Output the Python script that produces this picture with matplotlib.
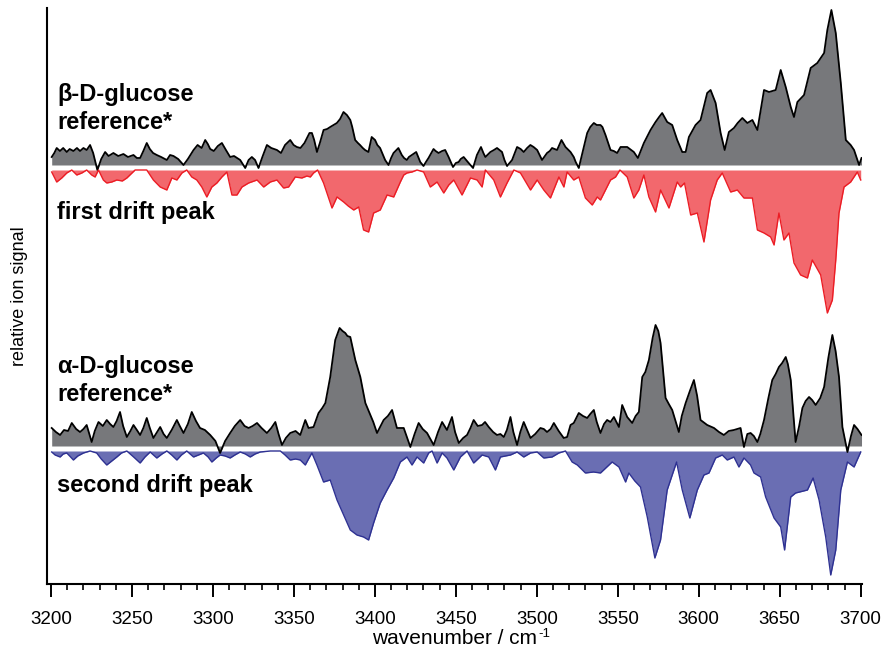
import numpy as np
import matplotlib
matplotlib.use("Agg")
import matplotlib.pyplot as plt
from matplotlib.ticker import MultipleLocator

plt.rcParams['font.family'] = ['Liberation Sans', 'DejaVu Sans']

# beta-D-glucose reference (upper grey trace), signal above its baseline
beta_wn = [3200.4, 3202.0, 3203.5, 3205.5, 3207.5, 3209.7, 3211.5, 3213.8, 3216.0, 3217.9,
           3220.0, 3222.0, 3224.1, 3226.0, 3228.6, 3231.0, 3233.4, 3235.5, 3238.5, 3241.5,
           3244.7, 3247.5, 3250.9, 3253.0, 3255.0, 3257.0, 3259.1, 3261.0, 3263.0, 3265.3,
           3268.0, 3271.5, 3273.5, 3275.6, 3278.5, 3281.8, 3284.5, 3288.0, 3290.5, 3293.0,
           3295.2, 3296.8, 3298.3, 3300.5, 3303.0, 3305.5, 3308.0, 3310.6, 3313.0, 3316.8,
           3319.9, 3322.0, 3324.0, 3326.0, 3328.1, 3330.5, 3333.3, 3336.0, 3339.5, 3342.0,
           3344.5, 3347.7, 3349.8, 3351.8, 3354.0, 3356.5, 3359.6, 3361.1, 3362.5, 3364.2,
           3366.0, 3368.3, 3370.5, 3372.4, 3374.5, 3376.5, 3378.5, 3380.6, 3382.7, 3384.8,
           3386.0, 3387.8, 3389.5, 3390.8, 3392.5, 3393.9, 3396.0, 3398.0, 3400.1, 3401.5,
           3403.2, 3405.0, 3406.3, 3408.4, 3410.0, 3411.5, 3414.5, 3416.6, 3418.0, 3419.7,
           3421.0, 3422.8, 3425.5, 3428.0, 3430.0, 3431.5, 3433.1, 3436.2, 3437.5, 3439.3,
           3441.5, 3443.4, 3445.5, 3448.2, 3450.0, 3451.7, 3453.0, 3454.8, 3457.9, 3460.6,
           3463.0, 3465.5, 3467.0, 3468.2, 3471.3, 3473.5, 3475.4, 3477.0, 3478.5, 3480.0,
           3481.6, 3484.7, 3487.8, 3490.0, 3491.9, 3494.0, 3496.0, 3498.0, 3500.2, 3503.2,
           3506.3, 3508.0, 3509.4, 3512.5, 3515.2, 3517.7, 3520.8, 3522.8, 3524.0, 3525.9,
           3529.0, 3531.1, 3533.0, 3535.2, 3537.0, 3539.3, 3540.5, 3542.4, 3545.5, 3547.5,
           3549.6, 3551.7, 3555.8, 3559.9, 3562.4, 3566.1, 3570.2, 3573.3, 3575.5, 3577.4,
           3580.5, 3583.6, 3586.7, 3589.8, 3591.9, 3593.9, 3598.0, 3601.1, 3605.2, 3607.3,
           3610.4, 3613.5, 3616.0, 3618.6, 3621.7, 3624.0, 3626.9, 3630.0, 3633.1, 3636.2,
           3640.3, 3643.4, 3647.5, 3650.6, 3653.7, 3656.8, 3658.8, 3660.9, 3665.0, 3669.1,
           3673.2, 3677.4, 3679.4, 3681.9, 3684.6, 3687.7, 3690.8, 3693.8, 3695.9, 3699.0,
           3700.5]
beta_ref = [8, 12, 17, 14, 17, 13, 16, 14, 17, 14,
            17, 15, 20, 12, -5, 6, 13, 9, 12, 9,
            11, 8, 10, 7, 7, 14, 22, 16, 12, 10,
            8, 5, 10, 9, 6, 0, 6, 15, 20, 17,
            25, 21, 16, 14, 19, 22, 15, 8, 9, 5,
            -3, 5, 8, 5, -3, 8, 20, 17, 15, 12,
            20, 25, 20, 18, 17, 22, 32, 32, 25, 13,
            22, 35, 36, 38, 40, 42, 46, 53, 50, 45,
            38, 25, 22, 20, 17, 15, 13, 28, 25, 20,
            17, 10, 5, 0, 7, 12, 17, 10, 7, 5,
            8, 10, 13, 3, -1, 3, 7, 16, 14, 12,
            14, 15, 8, -2, 2, 3, 6, 8, 2, -3,
            10, 18, 12, 8, 13, 15, 17, 15, 13, 5,
            -1, 5, 18, 16, 13, 17, 20, 18, 15, 5,
            12, 14, 17, 15, 25, 18, 13, 8, 3, -3,
            18, 32, 38, 42, 40, 40, 38, 30, 15, 14,
            12, 18, 18, 13, 7, 22, 35, 43, 48, 52,
            43, 40, 25, 13, 13, 28, 40, 45, 72, 75,
            62, 32, 15, 33, 37, 42, 47, 42, 45, 35,
            75, 73, 75, 95, 78, 58, 48, 63, 70, 97,
            102, 112, 135, 155, 132, 82, 25, 20, 15, 0,
            7]

# first drift peak (red, drawn downwards), depth below its baseline
first_wn = [3200.4, 3203.5, 3206.6, 3209.7, 3212.8, 3215.9, 3219.0, 3222.0, 3225.1, 3227.2,
            3229.3, 3232.3, 3234.4, 3237.5, 3240.6, 3244.0, 3246.8, 3251.9, 3255.0, 3259.1,
            3263.2, 3267.4, 3271.5, 3274.6, 3277.7, 3280.8, 3283.8, 3286.9, 3290.0, 3293.1,
            3296.2, 3299.3, 3302.4, 3305.5, 3308.6, 3311.7, 3314.8, 3317.9, 3322.0, 3327.2,
            3331.3, 3335.4, 3339.5, 3343.6, 3346.7, 3350.8, 3354.9, 3358.0, 3360.1, 3362.1,
            3364.6, 3368.3, 3373.5, 3376.6, 3380.7, 3383.5, 3386.9, 3390.0, 3393.0, 3396.1,
            3399.2, 3403.3, 3407.5, 3411.6, 3415.7, 3417.8, 3419.8, 3422.9, 3426.0, 3430.1,
            3434.2, 3438.4, 3442.5, 3445.6, 3448.7, 3453.8, 3456.9, 3459.0, 3463.1, 3466.2,
            3468.2, 3473.4, 3477.5, 3481.6, 3485.8, 3489.9, 3496.1, 3500.2, 3504.3, 3508.4,
            3513.6, 3516.7, 3518.7, 3522.8, 3525.9, 3530.0, 3534.2, 3537.3, 3539.3, 3545.5,
            3548.6, 3551.3, 3555.8, 3559.9, 3563.0, 3566.1, 3569.2, 3573.3, 3576.4, 3581.6,
            3586.7, 3588.8, 3591.2, 3595.0, 3599.1, 3603.2, 3607.3, 3611.4, 3614.5, 3619.7,
            3623.8, 3627.9, 3633.1, 3636.2, 3640.3, 3644.4, 3646.5, 3649.5, 3652.6, 3655.7,
            3658.8, 3662.9, 3667.1, 3670.1, 3675.3, 3679.4, 3682.5, 3684.6, 3686.6, 3689.7,
            3693.8, 3697.9, 3700.0]
first_peak = [2, 12, 8, 3, 0, 5, 3, 0, 5, 7,
              0, 10, 13, 12, 10, 11, 8, 0, 0, 0,
              10, 17, 20, 8, 10, 3, 0, 7, 10, 17,
              27, 17, 13, 7, 2, 25, 25, 17, 13, 10,
              17, 12, 10, 18, 17, 7, 8, 6, 7, 3,
              0, 13, 38, 27, 32, 36, 40, 37, 60, 62,
              43, 40, 25, 27, 12, 5, 3, 2, 0, 2,
              17, 12, 23, 15, 10, 25, 15, 8, 10, 17,
              0, 10, 27, 13, 0, 3, 20, 10, 20, 28,
              7, 17, 2, 10, 7, 28, 35, 27, 30, 10,
              7, 0, 7, 28, 20, 5, 27, 42, 20, 38,
              12, 17, 13, 45, 43, 72, 30, 10, 3, 22,
              20, 28, 28, 60, 63, 67, 75, 43, 70, 63,
              93, 105, 108, 90, 105, 143, 130, 90, 43, 17,
              12, 2, 10]

# alpha-D-glucose reference (lower grey trace)
alpha_wn = [3200.4, 3203.0, 3205.6, 3208.0, 3210.5, 3212.8, 3215.5, 3217.9, 3220.0, 3222.0,
            3225.1, 3227.0, 3229.3, 3232.0, 3234.4, 3236.5, 3238.5, 3240.5, 3242.6, 3244.5,
            3246.8, 3249.0, 3250.9, 3253.0, 3255.0, 3257.0, 3259.1, 3261.0, 3263.2, 3265.5,
            3267.4, 3269.5, 3271.5, 3274.5, 3277.7, 3279.5, 3281.8, 3284.5, 3286.9, 3289.5,
            3292.0, 3295.0, 3298.3, 3301.5, 3304.4, 3307.5, 3310.6, 3313.5, 3316.8, 3319.5,
            3322.0, 3324.5, 3327.2, 3330.0, 3333.3, 3336.0, 3338.5, 3340.5, 3342.6, 3345.0,
            3347.7, 3351.0, 3353.9, 3357.0, 3359.0, 3362.1, 3365.2, 3367.5, 3369.4, 3372.4,
            3375.5, 3378.2, 3380.0, 3381.7, 3383.0, 3384.8, 3387.9, 3391.0, 3394.1, 3397.2,
            3399.0, 3401.3, 3403.5, 3405.4, 3408.0, 3410.6, 3413.6, 3417.8, 3419.5, 3421.9,
            3424.5, 3427.0, 3429.5, 3432.2, 3436.3, 3439.0, 3441.5, 3444.5, 3447.6, 3449.5,
            3451.8, 3454.5, 3456.9, 3459.0, 3461.0, 3463.5, 3466.2, 3468.0, 3470.3, 3473.0,
            3475.4, 3477.5, 3479.6, 3481.5, 3483.7, 3485.5, 3487.8, 3489.8, 3491.9, 3494.0,
            3496.1, 3499.0, 3502.2, 3504.3, 3506.3, 3508.5, 3510.5, 3513.5, 3516.6, 3518.7,
            3520.8, 3522.8, 3525.9, 3528.5, 3531.1, 3533.0, 3535.2, 3537.0, 3539.3, 3541.5,
            3543.4, 3545.5, 3547.6, 3550.7, 3552.7, 3555.8, 3558.9, 3561.0, 3563.0, 3565.1,
            3567.0, 3569.2, 3571.5, 3573.3, 3575.0, 3576.4, 3578.0, 3579.5, 3581.5, 3583.6,
            3587.7, 3589.5, 3591.9, 3594.5, 3597.0, 3599.0, 3601.1, 3605.2, 3609.4, 3612.5,
            3615.5, 3618.5, 3621.7, 3625.8, 3627.9, 3630.0, 3632.0, 3634.0, 3636.2, 3638.0,
            3640.3, 3643.0, 3645.4, 3647.5, 3649.5, 3651.5, 3653.7, 3655.0, 3656.8, 3658.5,
            3659.8, 3662.0, 3664.0, 3666.0, 3668.1, 3670.0, 3672.2, 3675.0, 3677.4, 3680.0,
            3682.5, 3684.5, 3686.6, 3688.7, 3691.8, 3694.0, 3695.9, 3698.0, 3700.5]
alpha_ref = [18, 14, 11, 16, 15, 23, 17, 14, 17, 21,
             4, 15, 24, 20, 26, 22, 19, 25, 34, 20,
             9, 15, 21, 16, 11, 18, 28, 18, 8, 14,
             19, 12, 8, 16, 26, 20, 13, 22, 34, 25,
             18, 16, 11, 5, -7, 5, 13, 20, 26, 20,
             18, 20, 23, 18, 13, 18, 24, 12, 1, 8,
             13, 15, 11, 26, 18, 19, 33, 38, 43, 69,
             106, 118, 115, 113, 110, 109, 86, 69, 43, 31,
             24, 13, 20, 26, 30, 36, 18, 18, 10, -1,
             12, 23, 17, 13, 1, 14, 24, 16, 29, 14,
             3, 8, 11, 18, 26, 20, 21, 24, 19, 14,
             11, 12, 9, 16, 29, 14, 1, 14, 24, 16,
             8, 12, 18, 17, 14, 17, 23, 15, 8, 9,
             21, 23, 33, 30, 28, 32, 36, 24, 13, 22,
             26, 24, 29, 19, 41, 29, 23, 30, 34, 69,
             74, 86, 108, 121, 115, 103, 75, 48, 42, 36,
             14, 30, 43, 55, 66, 50, 26, 21, 18, 14,
             11, 15, 16, 18, -1, 12, 13, 10, 4, 12,
             26, 48, 66, 72, 79, 83, 89, 82, 66, 30,
             4, 20, 38, 45, 49, 46, 41, 48, 59, 88,
             111, 95, 69, 19, -6, 10, 21, 17, 11]

# second drift peak (blue, drawn downwards)
second_wn = [3200.4, 3202.5, 3205.6, 3207.5, 3209.7, 3211.5, 3213.8, 3216.5, 3220.0, 3224.1,
             3228.2, 3231.0, 3234.4, 3237.5, 3240.6, 3243.5, 3246.8, 3251.0, 3255.0, 3258.0,
             3261.2, 3265.3, 3268.5, 3271.5, 3274.5, 3277.7, 3280.5, 3283.8, 3288.0, 3291.0,
             3294.1, 3297.0, 3299.3, 3302.0, 3304.4, 3307.5, 3310.6, 3313.5, 3316.8, 3320.0,
             3323.0, 3326.0, 3329.2, 3335.4, 3341.6, 3344.5, 3347.7, 3351.0, 3353.9, 3357.0,
             3359.0, 3361.1, 3364.2, 3368.3, 3372.4, 3376.6, 3380.7, 3384.8, 3388.9, 3393.0,
             3396.1, 3399.2, 3403.3, 3407.5, 3411.6, 3415.7, 3419.8, 3422.9, 3426.0, 3430.1,
             3433.2, 3435.3, 3438.4, 3441.5, 3444.5, 3448.7, 3452.8, 3456.9, 3461.0, 3466.2,
             3470.3, 3474.4, 3477.5, 3483.7, 3487.8, 3491.9, 3496.1, 3500.2, 3504.3, 3509.4,
             3513.6, 3517.7, 3521.8, 3525.0, 3530.0, 3535.0, 3539.3, 3546.5, 3550.7, 3554.8,
             3556.8, 3560.5, 3564.0, 3568.2, 3572.9, 3576.4, 3580.5, 3586.3, 3589.8, 3594.5,
             3599.1, 3603.2, 3606.3, 3610.4, 3614.5, 3617.6, 3621.7, 3624.8, 3627.9, 3632.0,
             3634.1, 3638.2, 3641.3, 3646.5, 3650.6, 3653.0, 3656.8, 3659.8, 3667.1, 3670.6,
             3674.3, 3678.4, 3681.5, 3684.6, 3687.7, 3691.8, 3695.9, 3700.0]
second_peak = [1, 4, 6, 3, 2, 5, 9, 5, 2, 0,
               2, 8, 14, 10, 6, 2, 0, 6, 12, 6,
               1, 7, 3, 0, 4, 9, 4, 0, 6, 4,
               2, 6, 11, 7, 4, 5, 7, 4, 1, 3,
               6, 3, 1, 0, 0, 4, 9, 8, 9, 14,
               8, 2, 14, 31, 29, 49, 64, 79, 84, 86,
               89, 72, 52, 39, 27, 11, 6, 14, 6, 12,
               2, 0, 12, 2, 7, 19, 6, 0, 12, 4,
               6, 19, 6, 4, 1, 6, 2, 1, 7, 6,
               2, 0, 11, 14, 22, 21, 22, 11, 16, 31,
               22, 30, 36, 66, 107, 89, 39, 11, 39, 67,
               39, 24, 22, 7, 4, 9, 6, 16, 7, 14,
               22, 26, 46, 67, 76, 99, 46, 42, 39, 27,
               49, 86, 124, 99, 39, 11, 16, 1]

labels_top = ["\u03b2-D-glucose", "reference*", "first drift peak"]
labels_bottom = ["\u03b1-D-glucose", "reference*", "second drift peak"]

# vertical offsets of the four traces
BETA_BASE, FIRST_BASE = 419, 414
ALPHA_BASE, SECOND_BASE = 138, 133

GREY = "#77787b"
RED_FILL, RED_LINE = "#f2686d", "#ec1c24"
BLUE_FILL, BLUE_LINE = "#6a6eb3", "#2e3192"

fig = plt.figure(figsize=(8.81, 6.59), dpi=100)
ax = fig.add_axes([47 / 881, 75 / 659, 815 / 881, 576 / 659])


def draw_up(wn, val, base, fill, line, lw):
    wn = np.asarray(wn)
    y = base + np.asarray(val, dtype=float)
    ax.fill_between(wn, base, y, color=fill, lw=0, zorder=1)
    ax.plot(wn, y, color=line, lw=lw, zorder=3)


def draw_down(wn, val, base, fill, line, lw):
    wn = np.asarray(wn)
    y = base - np.asarray(val, dtype=float)
    ax.fill_between(wn, y, base, color=fill, lw=0, zorder=1)
    ax.plot(wn, y, color=line, lw=lw, zorder=3)


draw_up(beta_wn, beta_ref, BETA_BASE, GREY, "black", 1.3)
draw_down(first_wn, first_peak, FIRST_BASE, RED_FILL, RED_LINE, 1.0)
draw_up(alpha_wn, alpha_ref, ALPHA_BASE, GREY, "black", 1.3)
draw_down(second_wn, second_peak, SECOND_BASE, BLUE_FILL, BLUE_LINE, 1.0)

txt = dict(fontsize=17, fontweight="bold", ha="left", va="baseline", zorder=5)
for label, y in zip(labels_top, [483, 455, 365]):
    ax.text(3203.8, y, label, **txt)
for label, y in zip(labels_bottom, [211, 183, 92]):
    ax.text(3203.8, y, label, **txt)

ax.set_xlim(3197.5, 3700.8)
ax.set_ylim(0, 576)
ax.xaxis.set_major_locator(MultipleLocator(50))
ax.xaxis.set_minor_locator(MultipleLocator(10))
ax.tick_params(axis="x", which="major", direction="out", length=9, width=1.4,
               labelsize=13.5, pad=10.5)
ax.tick_params(axis="x", which="minor", direction="out", length=4.5, width=1.2)
ax.set_yticks([])
for side in ("top", "right"):
    ax.spines[side].set_visible(False)
for side in ("left", "bottom"):
    ax.spines[side].set_linewidth(1.5)

ax.set_xlabel("wavenumber / cm", fontsize=15, labelpad=0.5)
ax.set_ylabel("relative ion signal", fontsize=13, labelpad=14)

# superscript -1 placed just after the x label
fig.canvas.draw()
bb = ax.xaxis.label.get_window_extent()
fig.text((bb.x1 + 1) / 881, (bb.y1 + 0.5) / 659, "-1", fontsize=9.5,
         ha="left", va="top")

fig.savefig("out.png", dpi=100)
